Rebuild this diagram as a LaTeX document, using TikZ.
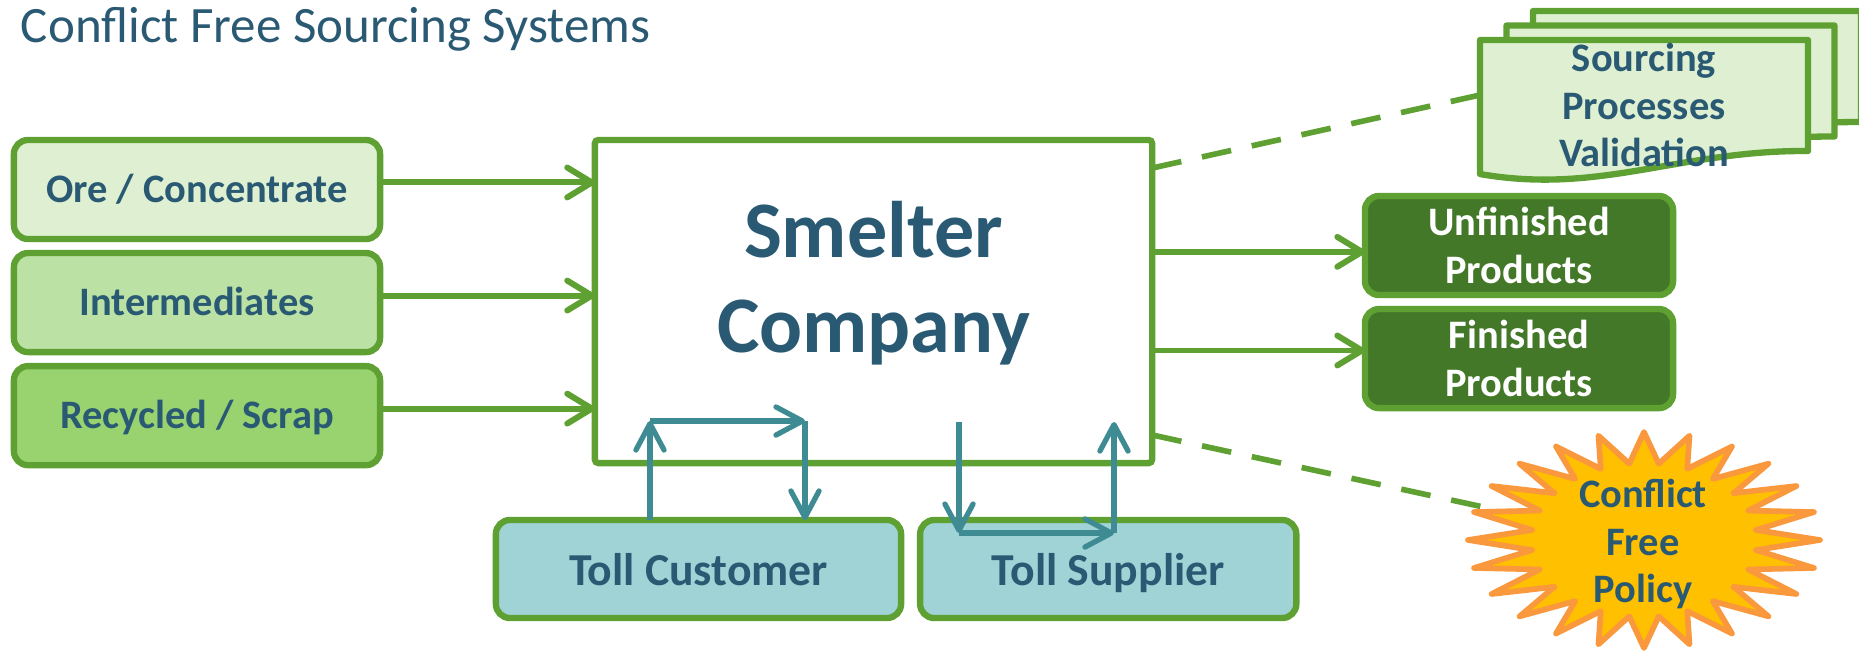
\documentclass[tikz,border=0pt]{standalone}
\usepackage{fontspec}
\setmainfont{Carlito}
\usetikzlibrary{arrows.meta,positioning}
\definecolor{frameGreen}{RGB}{94,161,50}
\definecolor{oreFill}{RGB}{222,240,209}
\definecolor{intermediateFill}{RGB}{187,226,164}
\definecolor{scrapFill}{RGB}{153,211,112}
\definecolor{productFill}{RGB}{67,120,40}
\definecolor{tollFill}{RGB}{159,211,214}
\definecolor{tollArrow}{RGB}{62,139,147}
\definecolor{labelBlue}{RGB}{42,90,115}
\definecolor{burstFill}{RGB}{255,192,0}
\definecolor{burstDraw}{RGB}{249,152,60}

\begin{document}
\begin{tikzpicture}[
  x=0.01cm,
  y=-0.01cm,
  every node/.style={
    inner sep=0pt,
    outer sep=0pt,
  },
  source box/.style={
    draw=frameGreen,
    line width=1.8pt,
    rounded corners=4pt,
    minimum width=3.66cm,
    minimum height=0.99cm,
    font=\fontsize{11.5}{13.4}\selectfont\bfseries,
    text=labelBlue,
    text height=8pt,
    text depth=0.7pt,
  },
  smelter box/.style={
    draw=frameGreen,
    line width=1.8pt,
    rounded corners=1pt,
    minimum width=5.57cm,
    minimum height=3.23cm,
  },
  smelter label/.style={
    align=center,
    font=\fontsize{22.8}{27}\selectfont\bfseries,
    text=labelBlue,
  },
  product box/.style={
    draw=frameGreen,
    fill=productFill,
    line width=1.8pt,
    rounded corners=4pt,
    minimum width=3.08cm,
    minimum height=0.99cm,
    align=center,
    font=\fontsize{11.5}{13.6}\selectfont\bfseries,
    text=white,
  },
  toll box/.style={
    draw=frameGreen,
    fill=tollFill,
    line width=1.8pt,
    rounded corners=4pt,
    minimum height=0.98cm,
    font=\fontsize{13}{15}\selectfont\bfseries,
    text=labelBlue,
    text height=9.1pt,
    text depth=0pt,
  },
  page/.style={
    draw=frameGreen,
    fill=oreFill,
    line width=1.8pt,
    line join=round,
  },
  page label/.style={
    align=center,
    font=\fontsize{11.5}{13.4}\selectfont\bfseries,
    text=labelBlue,
  },
  burst/.style={
    draw=burstDraw,
    fill=burstFill,
    line width=1.6pt,
    line join=round,
  },
  flow/.style={
    draw=frameGreen,
    line width=1.7pt,
    -{Straight Barb[length=7pt,width=8.5pt,round]},
  },
  toll flow/.style={
    draw=tollArrow,
    line width=1.5pt,
    -{Straight Barb[length=7.5pt,width=8pt,round]},
  },
  link/.style={
    draw=frameGreen,
    line width=1.6pt,
    dash pattern=on 8.5pt off 6pt,
  },
  sourcing page/.pic={
    \path[page] (0,134) -- (0,0) -- (328,0) -- (328,111)
      .. controls (200,110) and (120,155) .. (0,134) -- cycle;
  },
]
\useasboundingbox (0,0) rectangle (1859,650);

\node[anchor=base west,font=\fontsize{14.5}{17}\selectfont,text=labelBlue]
  (heading) at (21,42) {Conflict Free Sourcing Systems};

\node[smelter box] (smelter) at (873.5,301.5) {};
\node[smelter label] (smelterName) at (873.5,283.5) {Smelter\\Company};

\coordinate (docLeft) at (1480,95);
\coordinate (burstEdge) at (1488,508);
\draw[link] ([yshift=-8pt]smelter.north east) -- (docLeft);
\draw[link] ([yshift=8pt]smelter.south east) -- (burstEdge);

\pic at (1533,11) {sourcing page};
\pic at (1506.5,25.5) {sourcing page};
\pic at (1480,40) {sourcing page};
\node[page label] (validation) at (1644,105) {Sourcing\\Processes\\Validation};

\begin{scope}[shift={(1644,540)}]
\draw[burst] (0:176 and 108)
  \foreach \a in {0,15,...,345} { -- (\a+7.5:113 and 77) -- (\a+15:176 and 108) } -- cycle;
\end{scope}
\node[page label] (policy) at (1643,544) {Conflict\\Free\\Policy};

\node[source box,fill=oreFill] (ore) at (197,189.5) {Ore / Concentrate};
\node[source box,fill=intermediateFill,below=0.14cm of ore] (intermediates) {Intermediates};
\node[source box,fill=scrapFill,below=0.14cm of intermediates] (scrap) {Recycled / Scrap};
\foreach \src in {ore,intermediates,scrap}
  \draw[flow] ([yshift=2pt]\src.east) -- ([yshift=2pt]\src.east -| smelter.west);

\node[product box] (unfinished) at (1519,245.5) {Unfinished\\Products};
\node[product box,below=0.14cm of unfinished] (finished) {Finished\\Products};
\coordinate (unfinishedIn) at ([yshift=-1.8pt]unfinished.west);
\coordinate (finishedIn) at ([yshift=2.3pt]finished.west);
\draw[flow] (unfinishedIn -| smelter.east) -- (unfinishedIn);
\draw[flow] (finishedIn -| smelter.east) -- (finishedIn);

\node[toll box,minimum width=4.05cm] (customer) at (698.5,569) {Toll Customer};
\node[toll box,minimum width=3.76cm,right=0.19cm of customer] (supplier) {Toll Supplier};

\coordinate (customerTurn) at (650,421);
\coordinate (customerBack) at (805,421);
\draw[toll flow] (customerTurn |- customer.north) -- (customerTurn);
\draw[toll flow] (customerTurn) -- (customerBack);
\draw[toll flow] (customerBack) -- (customerBack |- customer.north);

\coordinate (supplierOut) at (959,422);
\coordinate (supplierLow) at (959,533);
\coordinate (supplierIn) at (1114,533);
\coordinate (supplierUp) at (1114,422);
\draw[toll flow] (supplierOut) -- (supplierLow);
\draw[toll flow] (supplierLow) -- (supplierIn);
\draw[toll flow] (supplierIn) -- (supplierUp);
\end{tikzpicture}
\end{document}
